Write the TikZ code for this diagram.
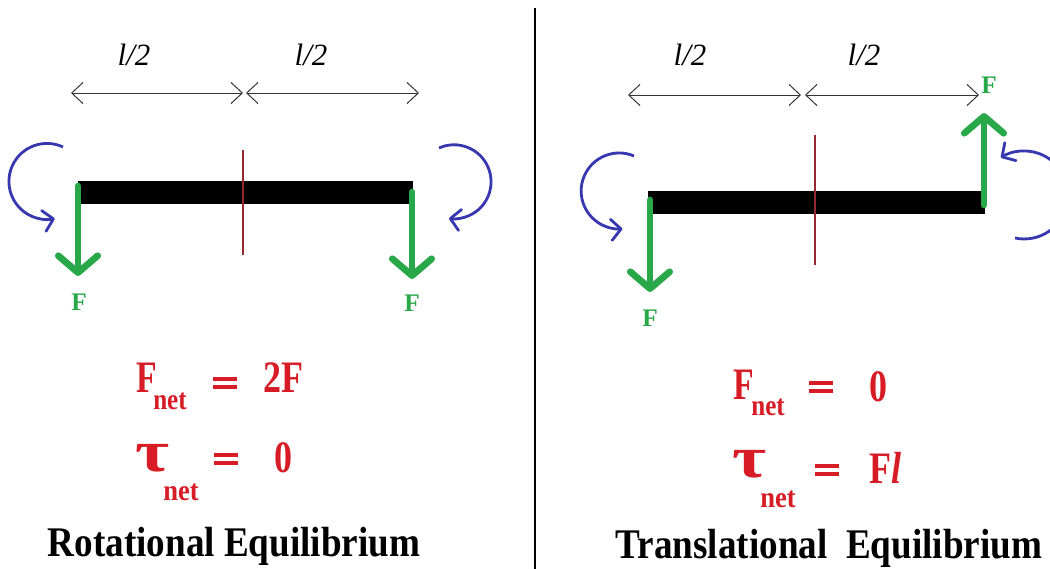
\documentclass[tikz,border=0pt]{standalone}
\usepackage{fontspec}
\setmainfont{Liberation Serif}
\usepackage{graphicx}
\usetikzlibrary{arrows.meta}
\definecolor{eqred}{RGB}{215,28,38}
\definecolor{fgreen}{RGB}{40,168,72}
\definecolor{rblue}{RGB}{55,55,175}
\definecolor{cline}{RGB}{150,40,50}
\newcommand{\hs}[2]{\scalebox{#1}[1]{#2}}
\newcommand{\beq}{\vbox{\hrule width 17pt height 3pt\vskip 2.6pt\hrule width 17pt height 3pt}}
\begin{document}
\begin{tikzpicture}[x=0.025cm,y=-0.025cm,
  dim/.style={draw=black!80, line width=0.7pt,
    {Straight Barb[length=8pt,width=15pt]}-{Straight Barb[length=8pt,width=15pt]}},
  force/.style={draw=fgreen, line width=4.8pt, line cap=round,
    -{Straight Barb[length=12pt,width=28pt,round]}},
  torque/.style={draw=rblue, line width=2pt,
    -{Straight Barb[length=7pt,width=15pt,round]}},
  centre/.style={draw=cline, line width=0.8pt},
  lab/.style={font=\fontsize{22}{24}\selectfont\itshape, inner sep=0pt},
  flab/.style={font=\fontsize{18}{20}\selectfont\bfseries, text=fgreen, inner sep=0pt},
  eq/.style={font=\fontsize{32}{34}\selectfont\bfseries, text=eqred, inner sep=0pt},
  eqs/.style={text=eqred, inner sep=0pt},
  sub/.style={font=\fontsize{21}{23}\selectfont\bfseries, text=eqred, inner sep=0pt},
  tau/.style={font=\fontsize{42}{44}\selectfont\bfseries, text=eqred, inner sep=0pt},
  ttl/.style={font=\fontsize{30}{32}\selectfont\bfseries, text=black, inner sep=0pt}
]
\useasboundingbox (0,0) rectangle (1050,569);
\clip (0,0) rectangle (1050,569);

% divider
\coordinate (divT) at (535,8);
\coordinate (divB) at (535,569);
\draw[line width=1.4pt] (divT) -- (divB);

%%%%%%%%%%%% LEFT PANEL
\node[lab] (hl1) at (134,55) {l/2};
\node[lab] (hl2) at (311,55) {l/2};
\coordinate (dA1) at (71,93);
\coordinate (dA2) at (243,93);
\coordinate (dA3) at (246,93);
\coordinate (dA4) at (419,93);
\draw[dim] (dA1) -- (dA2);
\draw[dim] (dA3) -- (dA4);

\fill (78,181) rectangle (413,204);
\coordinate (cA1) at (243,150);
\coordinate (cA2) at (243,255);
\draw[centre] (cA1) -- (cA2);

\coordinate (gA1) at (78,186);
\coordinate (gA2) at (78,276);
\draw[force] (gA1) -- (gA2);
\node[flab] (fA1) at (79,302) {F};
\coordinate (gA3) at (412,192);
\coordinate (gA4) at (412,279);
\draw[force] (gA3) -- (gA4);
\node[flab] (fA2) at (412,303) {F};

\draw[torque] (63,147) arc[start angle=-65, end angle=-282, radius=38];
\draw[torque] (439,148) arc[start angle=-114, end angle=98, radius=37];

\node[eq, anchor=base west] (FA) at (136,393) {\hs{0.75}{F}};
\node[sub, anchor=base west] (nA1) at (153,409) {\hs{0.85}{net}};
\node[eqs] (eA1) at (225,383) {\beq};
\node[eq, anchor=base west] (vA1) at (263,393) {\hs{0.8}{2F}};

\node[tau] (tA) at (153,458) {\hs{1.25}{τ}};
\node[sub, anchor=base west] (nA2) at (163,500) {\hs{0.9}{net}};
\node[eqs] (eA2) at (226,459) {\beq};
\node[eq] (vA2) at (283,458) {\hs{0.8}{0}};

\node[ttl, anchor=base] (TA) at (234,556) {\hs{0.88}{Rotational Equilibrium}};

%%%%%%%%%%%% RIGHT PANEL
\node[lab] (hr1) at (690,55) {l/2};
\node[lab] (hr2) at (864,55) {l/2};
\coordinate (dB1) at (628,95);
\coordinate (dB2) at (801,95);
\coordinate (dB3) at (805,95);
\coordinate (dB4) at (979,95);
\draw[dim] (dB1) -- (dB2);
\draw[dim] (dB3) -- (dB4);

\fill (648,191) rectangle (985,214);
\coordinate (cB1) at (815,135);
\coordinate (cB2) at (815,265);
\draw[centre] (cB1) -- (cB2);

\coordinate (gB1) at (650,200);
\coordinate (gB2) at (650,292);
\draw[force] (gB1) -- (gB2);
\node[flab] (fB1) at (650,318) {F};
\coordinate (gB3) at (984,205);
\coordinate (gB4) at (984,113);
\draw[force] (gB3) -- (gB4);
\node[flab] (fB2) at (989,85) {F};

\draw[torque] (634,156) arc[start angle=-67, end angle=-275, radius=38];
\draw[torque] (1015,238) arc[start angle=102, end angle=-122, radius=44];

\node[eq, anchor=base west] (FB) at (733,400) {\hs{0.75}{F}};
\node[sub, anchor=base west] (nB1) at (751,415) {\hs{0.85}{net}};
\node[eqs] (eB1) at (821,387) {\beq};
\node[eq] (vB1) at (878,387) {\hs{0.8}{0}};

\node[tau] (tB) at (750,464) {\hs{1.25}{τ}};
\node[sub, anchor=base west] (nB2) at (760,507) {\hs{0.9}{net}};
\node[eqs] (eB2) at (827,470) {\beq};
\node[eq] (vB2) at (885,468) {\hs{0.8}{F\textit{l}}};

\node[ttl, anchor=base] (TB) at (829,558) {\hs{0.88}{Translational\ \ Equilibrium}};
\end{tikzpicture}
\end{document}
